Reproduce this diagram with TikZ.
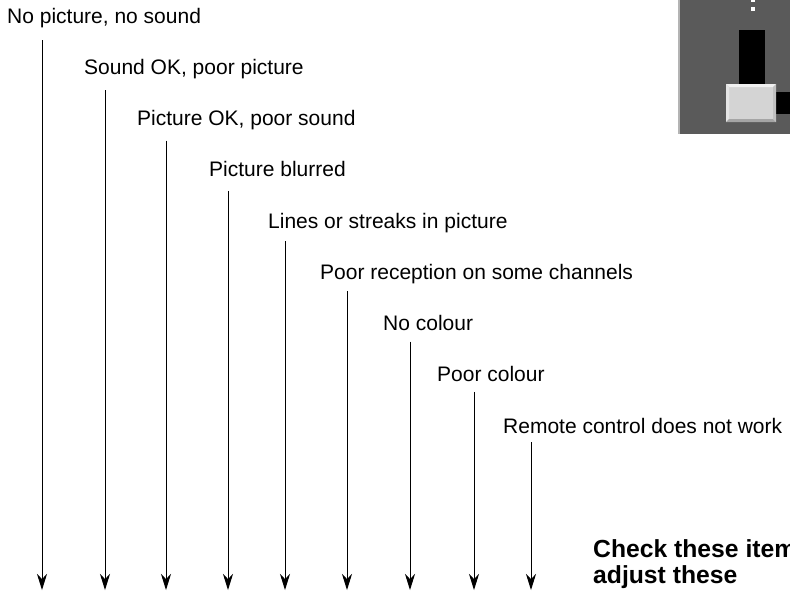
\documentclass[tikz,border=0pt]{standalone}
\usepackage{fontspec}
\setmainfont{Liberation Sans}
\usepackage{tikz}
\usetikzlibrary{arrows.meta,positioning}
\definecolor{panelgray}{RGB}{90,90,90}
\definecolor{edgegray}{RGB}{180,180,180}
\definecolor{knobgray}{RGB}{212,212,212}
\definecolor{knoblight}{RGB}{240,240,240}
\definecolor{knobdark}{RGB}{165,165,165}
\tikzset{
  lbl/.style={anchor=base west,inner sep=0pt,font=\fontsize{21}{25}\selectfont},
  note/.style={anchor=base west,inner sep=0pt,font=\fontsize{24.7}{26}\selectfont\bfseries},
  arr/.style={-{Stealth[length=16pt,width=10pt,inset=5pt]},line width=1pt}
}

\begin{document}
\begin{tikzpicture}[x=1pt,y=-1pt]
  \useasboundingbox (0,0) rectangle (790,590);
  \clip (0,0) rectangle (790,590);
  % symptoms, each with its arrow down to the bottom
  \foreach \lx/\ax/\txt [count=\k from 0] in {
      7/42/{No picture, no sound},
      84/105/{Sound OK, poor picture},
      137/166/{Picture OK, poor sound},
      209/228/{Picture blurred},
      268/285/{Lines or streaks in picture},
      320/347/{Poor reception on some channels},
      383/410/{No colour},
      437/474/{Poor colour},
      503/531/{Remote control does not work}}{
    \pgfmathsetmacro\by{23+51.25*\k}
    \pgfmathsetmacro\ty{40+50.25*\k}
    \node[lbl] (sym\k) at (\lx,\by) {\txt};
    \coordinate (top\k) at (\ax,\ty);
    \coordinate (bot\k) at (\ax,590);
    \draw[arr] (top\k) -- (bot\k);
  }
  \node[note] (check) at (593,557) {Check these items};
  \node[note] (adjust) at (593,583) {adjust these};
  % control panel, top right
  \fill[edgegray] (678,0) rectangle (680,134);
  \fill[panelgray] (680,0) rectangle (790,134);
  \fill[white] (751,-2) rectangle (755,2);
  \fill[white] (751,7) rectangle (755,11);
  \fill[black] (739,30) rectangle (765,84);
  \fill[black] (776,92) rectangle (790,114);
  \fill[knobgray] (726,84) rectangle (776,122);
  \fill[knoblight] (726,84) -- (776,84) -- (773,87) -- (729,87) -- cycle;
  \fill[knoblight!90!gray] (726,84) -- (729,87) -- (729,119) -- (726,122) -- cycle;
  \fill[knobdark] (726,122) -- (776,122) -- (773,119) -- (729,119) -- cycle;
  \fill[knobdark!70!white] (776,84) -- (776,122) -- (773,119) -- (773,87) -- cycle;
\end{tikzpicture}
\end{document}
